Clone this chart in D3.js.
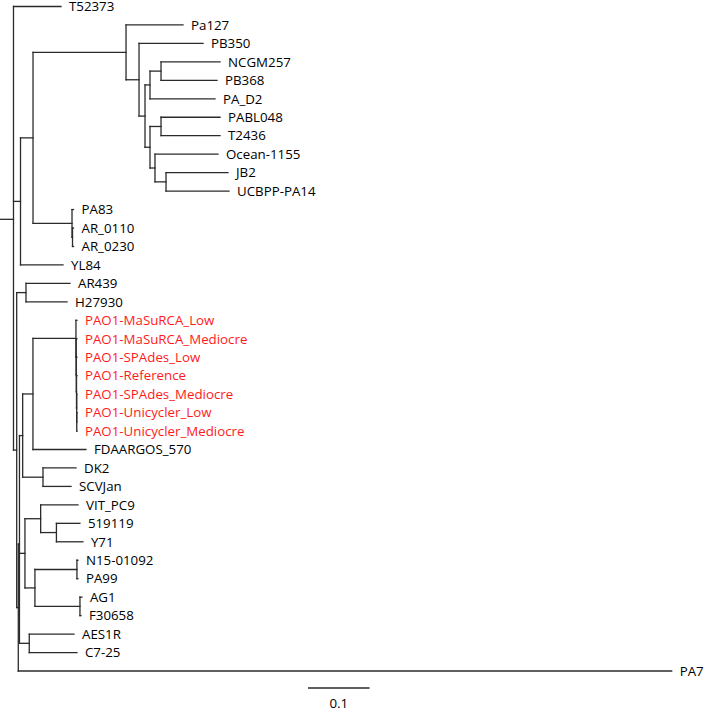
<!DOCTYPE html>
<html><head><meta charset="utf-8">
<script src="https://cdn.jsdelivr.net/npm/d3@7"></script>
<style>body{margin:0;background:#fff;} text{font-family:"Open Sans",sans-serif;}</style>
</head><body><svg id="c" width="709" height="711"></svg>
<script>
// Tree nodes (children listed in drawing order), their parents and branch lengths
const nodeIds = [
 "root","T52373","A","A1","P","Pa127","Q","PB350","S","T","U","NCGM257","PB368","PA_D2",
 "V","W","PABL048","T2436","X","Ocean-1155","Y","JB2","UCBPP-PA14",
 "PAg","PA83","Z","AR_0110","AR_0230","YL84",
 "B","ARn","AR439","H27930","C","E","F","G","L1","PAO1-MaSuRCA_Low","L2","PAO1-MaSuRCA_Mediocre",
 "L3","PAO1-SPAdes_Low","L4","PAO1-Reference","L5","PAO1-SPAdes_Mediocre","L6",
 "PAO1-Unicycler_Low","PAO1-Unicycler_Mediocre","FDAARGOS_570","DKn","DK2","SCVJan",
 "H","VITn","VIT_PC9","K","519119","Y71","N15AG","N15n","N15-01092","PA99","AGn","AG1","F30658",
 "AESn","AES1R","C7-25","PA7"
];
const parentIds = [
 null,"root","root","A","A1","P","P","Q","Q","S","T","U","U","T",
 "S","V","W","W","V","X","X","Y","Y",
 "A1","PAg","PAg","Z","Z","A",
 "root","B","ARn","ARn","B","C","E","F","G","L1","L1","L2",
 "L2","L3","L3","L4","L4","L5","L5",
 "L6","L6","G","F","DKn","DKn",
 "E","H","VITn","VITn","K","K","H","N15AG","N15n","N15n","N15AG","AGn","AGn",
 "E","AESn","AESn","C"
];
const branchLengths = [
 0.0219,0.0771,0.0114,0.0203,0.1510,0.0925,0.0211,0.1039,0.0097,0.0081,0.0179,0.0958,0.0909,0.1055,
 0.0081,0.0179,0.0958,0.0958,0.0081,0.1023,0.0179,0.1006,0.1023,
 0.0633,0.0024,0.0008,0.0016,0.0016,0.0690,
 0.0052,0.0151,0.0714,0.0666,0.0026,0.0019,0.0052,0.0167,0.0698,0.0016,0.0003,0.0013,
 0.0003,0.0010,0.0003,0.0007,0.0003,0.0004,0.0001,
 0.0003,0.0003,0.0860,0.0330,0.0536,0.0455,
 0.0089,0.0255,0.0606,0.0256,0.0381,0.0430,0.0162,0.0682,0.0016,0.0016,0.0731,0.0032,0.0016,
 0.0159,0.0726,0.0774,1.0607
];
const highlightedTips = ["PAO1-MaSuRCA_Low","PAO1-MaSuRCA_Mediocre","PAO1-SPAdes_Low","PAO1-Reference",
 "PAO1-SPAdes_Mediocre","PAO1-Unicycler_Low","PAO1-Unicycler_Mediocre"];
const scaleBarValue = 0.1;
const scaleBarLabel = "0.1";

const table = nodeIds.map((id, i) => ({id, parent: parentIds[i], length: branchLengths[i]}));
const root = d3.stratify().id(d => d.id).parentId(d => d.parent)(table);
root.eachBefore(n => { n.dist = (n.parent ? n.parent.dist : 0) + n.data.length; });
const leaves = root.leaves();

const x = d3.scaleLinear().domain([0, 1]).range([0, 616]);
const y = d3.scalePoint().domain(leaves.map(d => d.id)).range([6.5, 671]);
root.eachAfter(n => { n.yy = n.children ? d3.mean(n.children, c => c.yy) : y(n.id); });

const svg = d3.select("#c");
const g = svg.append("g");
const lineColor = "#2b2b2b";

// horizontal branches
g.selectAll("line.h").data(root.descendants()).join("line")
 .attr("class", "h")
 .attr("x1", d => x(d.parent ? d.parent.dist : 0))
 .attr("x2", d => x(d.dist))
 .attr("y1", d => d.yy).attr("y2", d => d.yy)
 .attr("stroke", lineColor).attr("stroke-width", 1.3).attr("stroke-linecap", "square");

// vertical connectors
g.selectAll("line.v").data(root.descendants().filter(d => d.children)).join("line")
 .attr("class", "v")
 .attr("x1", d => x(d.dist)).attr("x2", d => x(d.dist))
 .attr("y1", d => d.children[0].yy)
 .attr("y2", d => d.children[d.children.length - 1].yy)
 .attr("stroke", lineColor).attr("stroke-width", 1.3).attr("stroke-linecap", "square");

// tip labels
g.selectAll("text.tip").data(leaves).join("text")
 .attr("class", "tip")
 .attr("x", d => x(d.dist) + 8)
 .attr("y", d => d.yy)
 .attr("dy", "0.36em")
 .attr("font-size", 13.3)
 .attr("fill", d => highlightedTips.includes(d.id) ? "#ff1a1a" : "#000")
 .text(d => d.id);

// scale bar
const sbX = 308, sbY = 688;
svg.append("line")
 .attr("x1", sbX).attr("x2", sbX + x(scaleBarValue) - x(0))
 .attr("y1", sbY).attr("y2", sbY)
 .attr("stroke", lineColor).attr("stroke-width", 1.3);
svg.append("text")
 .attr("x", sbX + (x(scaleBarValue) - x(0)) / 2).attr("y", 708)
 .attr("text-anchor", "middle").attr("font-size", 13.3).attr("fill", "#000")
 .text(scaleBarLabel);
</script></body></html>
